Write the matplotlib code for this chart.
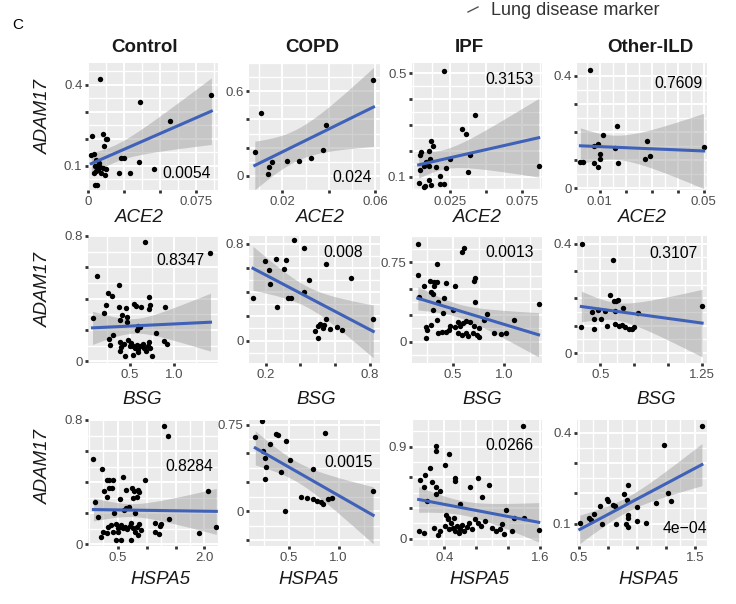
import numpy as np
import matplotlib
matplotlib.use("Agg")
import matplotlib.pyplot as plt
from matplotlib.ticker import MultipleLocator

plt.rcParams['font.family'] = ['Liberation Sans', 'DejaVu Sans']

# ---- data ----
groups = ['Control', 'COPD', 'IPF', 'Other-ILD']
genes = ['ACE2', 'BSG', 'HSPA5']

# ACE2 row
ctrl_ace2_x = [0.0086, 0.0359, 0.0857, 0.0572, 0.0030, 0.0104, 0.0123, 0.0132, 0.0109, 0.0023, 0.0042,
               0.0232, 0.0248, 0.0058, 0.0074, 0.0046, 0.0065, 0.0081, 0.0104, 0.0123, 0.0069, 0.0053,
               0.0093, 0.0116, 0.0039, 0.0354, 0.0215, 0.0289, 0.0458, 0.0046, 0.0065]
ctrl_ace2_y = [0.421, 0.335, 0.360, 0.264, 0.211, 0.219, 0.199, 0.199, 0.174, 0.141, 0.144,
               0.128, 0.128, 0.122, 0.110, 0.100, 0.098, 0.095, 0.091, 0.088, 0.085, 0.081,
               0.073, 0.067, 0.073, 0.114, 0.073, 0.075, 0.089, 0.030, 0.030]
copd_ace2_x = [0.0592, 0.0107, 0.0386, 0.0081, 0.0376, 0.0321, 0.0271, 0.0218, 0.0157, 0.0140, 0.0136]
copd_ace2_y = [0.678, 0.446, 0.363, 0.166, 0.180, 0.126, 0.107, 0.109, 0.095, 0.066, 0.012]
ipf_ace2_x = [0.0209, 0.0427, 0.0335, 0.0365, 0.0123, 0.0135, 0.0105, 0.0054, 0.0043, 0.0112, 0.0084,
              0.0075, 0.0047, 0.0156, 0.0225, 0.0105, 0.0377, 0.0181, 0.0036, 0.0082, 0.0075, 0.0121,
              0.0185, 0.0209, 0.0105, 0.0865, 0.0255, 0.0393]
ipf_ace2_y = [0.509, 0.339, 0.285, 0.265, 0.236, 0.219, 0.199, 0.193, 0.184, 0.167, 0.158,
              0.139, 0.126, 0.136, 0.132, 0.141, 0.117, 0.103, 0.074, 0.064, 0.059, 0.068,
              0.072, 0.072, 0.085, 0.139, 0.167, 0.184]
ild_ace2_x = [0.0064, 0.0167, 0.0113, 0.0092, 0.0077, 0.0160, 0.0103, 0.0100, 0.0036, 0.0026, 0.0079,
              0.0092, 0.0169, 0.0282, 0.0295, 0.0273, 0.0500]
ild_ace2_y = [0.419, 0.220, 0.190, 0.158, 0.151, 0.142, 0.121, 0.103, 0.095, 0.095, 0.089,
              0.075, 0.091, 0.169, 0.115, 0.103, 0.146]

# BSG row
ctrl_bsg_x = [0.674, 1.415, 0.130, 0.378, 0.252, 0.296, 0.233, 0.378, 0.463, 0.548, 0.574, 0.630, 0.722,
              0.733, 0.722, 0.896, 0.215, 0.081, 0.389, 0.474, 0.593, 0.622, 0.585, 0.315, 0.267, 0.278,
              0.796, 0.389, 0.437, 0.400, 0.389, 0.481, 0.500, 0.519, 0.537, 0.556, 0.585, 0.600, 0.622,
              0.648, 0.667, 0.685, 0.704, 0.722, 0.733, 0.452, 0.537, 0.593, 0.759, 0.889, 0.918, 0.415, 0.470]
ctrl_bsg_y = [0.764, 0.690, 0.545, 0.488, 0.435, 0.418, 0.361, 0.346, 0.340, 0.367, 0.354, 0.346, 0.414,
              0.361, 0.333, 0.344, 0.312, 0.276, 0.266, 0.249, 0.227, 0.219, 0.202, 0.170, 0.142, 0.106,
              0.181, 0.121, 0.112, 0.095, 0.064, 0.138, 0.100, 0.117, 0.096, 0.085, 0.106, 0.079, 0.096,
              0.113, 0.085, 0.064, 0.096, 0.121, 0.085, 0.032, 0.043, 0.057, 0.032, 0.128, 0.113, 0.297, 0.283]
copd_bsg_x = [0.361, 0.423, 0.550, 0.196, 0.258, 0.317, 0.216, 0.303, 0.223, 0.449, 0.695, 0.126, 0.262,
              0.326, 0.346, 0.423, 0.546, 0.501, 0.515, 0.487, 0.501, 0.569, 0.612, 0.643, 0.821, 0.530, 0.536]
copd_bsg_y = [0.828, 0.761, 0.634, 0.657, 0.670, 0.662, 0.582, 0.588, 0.469, 0.497, 0.519, 0.348, 0.276,
              0.353, 0.353, 0.403, 0.174, 0.119, 0.138, 0.083, 0.022, 0.099, 0.110, 0.091, 0.182, 0.107, 0.130]
ipf_bsg_x = [0.16, 0.583, 0.603, 0.343, 0.157, 0.277, 0.317, 0.343, 0.31, 0.217, 0.433, 0.523, 0.717, 0.70,
             0.283, 0.30, 0.41, 0.167, 0.35, 0.717, 0.5, 0.3, 0.4, 1.333, 0.833, 0.343, 0.55, 0.6, 0.623,
             0.667, 0.467, 0.517, 0.567, 0.233, 0.243, 0.283, 0.35, 0.39, 0.433, 0.457, 0.55, 0.583, 0.623,
             0.65, 0.69, 0.733, 0.75, 0.70, 0.75, 1.09, 0.9, 0.967, 1.017, 0.233, 0.8]
ipf_bsg_y = [0.928, 0.853, 0.884, 0.734, 0.634, 0.572, 0.563, 0.569, 0.531, 0.522, 0.553, 0.522, 0.603, 0.578,
             0.469, 0.447, 0.416, 0.422, 0.375, 0.375, 0.297, 0.297, 0.272, 0.353, 0.259, 0.209, 0.1875, 0.172,
             0.197, 0.1875, 0.147, 0.134, 0.147, 0.134, 0.109, 0.156, 0.078, 0.087, 0.094, 0.109, 0.084, 0.0625,
             0.078, 0.053, 0.078, 0.0625, 0.041, 0.147, 0.125, 0.203, 0.078, 0.072, 0.078, 0.031, 0.203]
ild_bsg_x = [0.365, 0.591, 0.574, 0.598, 0.615, 0.63, 0.664, 0.483, 0.537, 0.61, 0.439, 0.777, 1.248,
             0.451, 0.507, 0.36, 0.451, 0.549, 0.61, 0.635, 0.659, 0.684, 0.708, 0.733, 0.745]
ild_bsg_y = [0.40, 0.341, 0.214, 0.190, 0.190, 0.193, 0.166, 0.159, 0.154, 0.154, 0.151, 0.147, 0.171,
             0.123, 0.123, 0.096, 0.090, 0.099, 0.106, 0.099, 0.102, 0.094, 0.087, 0.090, 0.096]

# HSPA5 row
ctrl_hspa5_x = [1.306, 1.365, 0.076, 0.224, 0.312, 0.353, 0.412, 0.588, 0.971, 0.253, 0.353, 0.394, 0.106,
                0.529, 0.312, 0.147, 2.059, 1.382, 2.206, 1.912, 0.647, 0.747, 0.782, 0.841, 0.865, 0.765,
                0.824, 0.441, 0.606, 0.647, 0.688, 0.794, 1.147, 1.235, 1.253, 1.147, 1.206, 0.324, 0.382,
                0.471, 0.5, 0.529, 0.559, 0.588, 0.629, 0.665, 0.706, 0.735, 0.765, 0.794, 0.824, 0.865,
                0.9, 0.853, 0.5, 0.471, 0.206, 0.312, 0.412, 0.559, 0.724, 0.235]
ctrl_hspa5_y = [0.764, 0.694, 0.547, 0.487, 0.413, 0.417, 0.413, 0.434, 0.413, 0.345, 0.36, 0.366, 0.274,
                0.289, 0.302, 0.174, 0.345, 0.164, 0.115, 0.072, 0.349, 0.366, 0.345, 0.353, 0.338, 0.296,
                0.306, 0.2, 0.221, 0.232, 0.238, 0.2, 0.136, 0.119, 0.132, 0.083, 0.068, 0.115, 0.125,
                0.132, 0.104, 0.115, 0.125, 0.104, 0.115, 0.098, 0.119, 0.136, 0.104, 0.077, 0.115, 0.132,
                0.094, 0.062, 0.077, 0.03, 0.051, 0.072, 0.083, 0.03, 0.03, 0.077]
copd_hspa5_x = [0.234, 0.166, 0.372, 0.397, 0.476, 0.31, 0.241, 0.51, 0.259, 0.269, 0.421, 0.259, 0.741,
                0.862, 0.628, 0.683, 0.741, 0.786, 0.821, 0.890, 0.931, 0.845, 0.466, 1.345]
copd_hspa5_y = [0.780, 0.640, 0.670, 0.661, 0.610, 0.580, 0.521, 0.440, 0.461, 0.387, 0.342, 0.283, 0.363,
                0.679, 0.125, 0.113, 0.104, 0.089, 0.083, 0.104, 0.113, 0.065, 0.006, 0.173]
ipf_hspa5_x = [1.383, 0.3, 0.292, 0.454, 0.225, 0.163, 0.092, 0.413, 0.538, 0.538, 0.817, 0.725, 0.954,
               0.246, 0.3, 0.3, 0.35, 0.142, 0.183, 0.871, 0.6, 0.425, 0.442, 1.175, 1.275, 1.392, 1.579,
               0.079, 0.142, 0.275, 0.317, 0.35, 0.413, 0.454, 0.483, 0.508, 0.538, 0.558, 0.579, 0.6,
               0.621, 0.65, 0.683, 0.704, 0.746, 0.788, 0.817, 0.858, 0.913, 0.996, 1.05, 1.092, 1.121,
               1.142, 0.525, 0.442, 1.246]
ipf_hspa5_y = [1.101, 0.906, 0.861, 0.829, 0.690, 0.625, 0.576, 0.716, 0.593, 0.56, 0.593, 0.505, 0.528,
               0.55, 0.505, 0.44, 0.463, 0.505, 0.366, 0.408, 0.343, 0.236, 0.204, 0.285, 0.204, 0.204, 0.084,
               0.075, 0.052, 0.107, 0.032, 0.075, 0.123, 0.097, 0.149, 0.107, 0.075, 0.123, 0.058, 0.091,
               0.13, 0.075, 0.117, 0.155, 0.097, 0.188, 0.149, 0.123, 0.172, 0.107, 0.075, 0.097, 0.139,
               0.042, 0.204, 0.188, 0.075]
ild_hspa5_x = [1.561, 1.235, 0.509, 0.587, 0.631, 0.683, 0.741, 0.753, 0.791, 0.811, 0.703, 0.82, 0.907,
               0.927, 0.892, 0.916, 0.927, 0.927, 0.922, 1.003, 1.003, 1.081, 1.169, 1.265, 1.299, 0.602]
ild_hspa5_y = [0.422, 0.359, 0.102, 0.119, 0.133, 0.159, 0.181, 0.173, 0.162, 0.157, 0.097, 0.097, 0.100,
               0.228, 0.198, 0.179, 0.130, 0.119, 0.089, 0.155, 0.108, 0.102, 0.168, 0.201, 0.173, 0.111]

p_values = [['0.0054', '0.024', '0.3153', '0.7609'],
            ['0.8347', '0.008', '0.0013', '0.3107'],
            ['0.8284', '0.0015', '0.0266', '4e\u221204']]

data = [[(ctrl_ace2_x, ctrl_ace2_y), (copd_ace2_x, copd_ace2_y), (ipf_ace2_x, ipf_ace2_y), (ild_ace2_x, ild_ace2_y)],
        [(ctrl_bsg_x, ctrl_bsg_y), (copd_bsg_x, copd_bsg_y), (ipf_bsg_x, ipf_bsg_y), (ild_bsg_x, ild_bsg_y)],
        [(ctrl_hspa5_x, ctrl_hspa5_y), (copd_hspa5_x, copd_hspa5_y), (ipf_hspa5_x, ipf_hspa5_y), (ild_hspa5_x, ild_hspa5_y)]]

# ---- axis setup per panel: xlim, ylim, xticks, xlabels, yticks, ylabels ----
axis_cfg = [
    [dict(xlim=(0.0007, 0.0903), ylim=(0.011, 0.48), xt=[0, 0.025, 0.05, 0.075], xl=['0', '', '', '0.075'],
          yt=[0.1, 0.2, 0.3, 0.4], yl=['0.1', '', '', '0.4']),
     dict(xlim=(0.0056, 0.062), ylim=(-0.10, 0.80), xt=[0.02, 0.04, 0.06], xl=['0.02', '', '0.06'],
          yt=[0, 0.2, 0.4, 0.6], yl=['0', '', '', '0.6']),
     dict(xlim=(-0.001, 0.0888), ylim=(0.048, 0.539), xt=[0.025, 0.05, 0.075], xl=['0.025', '', '0.075'],
          yt=[0.1, 0.2, 0.3, 0.4, 0.5], yl=['0.1', '', '', '', '0.5']),
     dict(xlim=(0.0013, 0.0513), ylim=(-0.006, 0.445), xt=[0.01, 0.02, 0.03, 0.04, 0.05], xl=['0.01', '', '', '', '0.05'],
          yt=[0, 0.1, 0.2, 0.3, 0.4], yl=['0', '', '', '', '0.4'])],
    [dict(xlim=(0.03, 1.5), ylim=(-0.01, 0.796), xt=[0.5, 1.0], xl=['0.5', '1.0'],
          yt=[0, 0.2, 0.4, 0.6, 0.8], yl=['0', '', '', '', '0.8']),
     dict(xlim=(0.103, 0.86), ylim=(-0.185, 0.863), xt=[0.2, 0.4, 0.6, 0.8], xl=['0.2', '', '', '0.8'],
          yt=[0, 0.2, 0.4, 0.6, 0.8], yl=['0', '', '', '', '0.8']),
     dict(xlim=(0.1, 1.367), ylim=(-0.203, 1.0), xt=[0.5, 1.0], xl=['0.5', '1.0'],
          yt=[0, 0.25, 0.5, 0.75], yl=['0', '', '', '0.75']),
     dict(xlim=(0.328, 1.284), ylim=(-0.036, 0.428), xt=[0.5, 0.75, 1.0, 1.25], xl=['0.5', '', '', '1.25'],
          yt=[0, 0.1, 0.2, 0.3, 0.4], yl=['0', '', '', '', '0.4'])],
    [dict(xlim=(-0.018, 2.235), ylim=(-0.01, 0.80), xt=[0.5, 1.0, 1.5, 2.0], xl=['0.5', '', '', '2.0'],
          yt=[0, 0.2, 0.4, 0.6, 0.8], yl=['0', '', '', '', '0.8']),
     dict(xlim=(0.103, 1.414), ylim=(-0.298, 0.789), xt=[0.5, 1.0], xl=['0.5', '1.0'],
          yt=[-0.25, 0, 0.25, 0.5, 0.75], yl=['', '0', '', '', '0.75']),
     dict(xlim=(-0.004, 1.62), ylim=(-0.071, 1.159), xt=[0.4, 0.8, 1.2, 1.6], xl=['0.4', '', '', '1.6'],
          yt=[0, 0.3, 0.6, 0.9], yl=['0', '', '', '0.9']),
     dict(xlim=(0.485, 1.605), ylim=(0.026, 0.442), xt=[0.5, 0.75, 1.0, 1.25, 1.5], xl=['0.5', '', '', '', '1.5'],
          yt=[0.1, 0.2, 0.3, 0.4], yl=['0.1', '', '', '0.4'])],
]

# p-value text position (axes fraction)
p_pos = [[(0.76, 0.13), (0.79, 0.10), (0.75, 0.87), (0.78, 0.84)],
         [(0.71, 0.81), (0.72, 0.87), (0.75, 0.87), (0.74, 0.86)],
         [(0.78, 0.63), (0.76, 0.66), (0.75, 0.80), (0.83, 0.14)]]

# layout in pixels
W, H = 736, 604
col_px = [(88, 218), (249, 380), (412, 542), (577, 707)]
row_px = [(63, 190), (236, 363), (420, 546)]
xlab_px = [[(139, 217), (320, 217), (477, 217), (642, 217)],
           [(142, 400), (316, 400), (482, 400), (656, 400)],
           [(160, 580), (308, 580), (479, 580), (648, 580)]]
ylab_px = [(43, 117), (43, 290), (43, 467)]
title_px = [145, 312, 469, 650]


def t975(df):
    # 97.5% t quantile, Cornish-Fisher expansion
    z = 1.959964
    g1 = (z**3 + z) / 4
    g2 = (5 * z**5 + 16 * z**3 + 3 * z) / 96
    g3 = (3 * z**7 + 19 * z**5 + 17 * z**3 - 15 * z) / 384
    return z + g1 / df + g2 / df**2 + g3 / df**3


def lm_band(x, y):
    # same as geom_smooth(method = "lm")
    x = np.asarray(x); y = np.asarray(y)
    n = len(x)
    b, a = np.polyfit(x, y, 1)
    xs = np.linspace(x.min(), x.max(), 80)
    fit = a + b * xs
    resid = y - (a + b * x)
    s = np.sqrt(np.sum(resid**2) / (n - 2))
    sxx = np.sum((x - x.mean())**2)
    se = s * np.sqrt(1 / n + (xs - x.mean())**2 / sxx)
    tq = t975(n - 2)
    return xs, fit, fit - tq * se, fit + tq * se


fig = plt.figure(figsize=(W / 100, H / 100), dpi=100)

def fx(px):
    return px / W

def fy(py):
    return 1 - py / H

for r in range(3):
    for c in range(4):
        l, rr = col_px[c]
        t, b = row_px[r]
        ax = fig.add_axes([fx(l), fy(b), (rr - l) / W, (b - t) / H])
        cfg = axis_cfg[r][c]
        x, y = data[r][c]

        ax.set_facecolor('#EBEBEB')
        for sp in ax.spines.values():
            sp.set_visible(False)
        ax.set_axisbelow(True)

        xs, fit, lo, hi = lm_band(x, y)
        ax.fill_between(xs, lo, hi, color='#999999', alpha=0.45, lw=0, zorder=2)
        ax.scatter(x, y, s=15, color='black', lw=0, zorder=3)
        ax.plot(xs, fit, color='#3F62B8', lw=2.2, zorder=4)

        ax.set_xlim(cfg['xlim'])
        ax.set_ylim(cfg['ylim'])
        ax.set_xticks(cfg['xt'])
        ax.set_xticklabels(cfg['xl'])
        ax.set_yticks(cfg['yt'])
        ax.set_yticklabels(cfg['yl'])
        xstep = cfg['xt'][1] - cfg['xt'][0]
        ystep = cfg['yt'][1] - cfg['yt'][0]
        ax.xaxis.set_minor_locator(MultipleLocator(xstep / 2))
        ax.yaxis.set_minor_locator(MultipleLocator(ystep / 2))
        ax.grid(which='major', color='white', lw=1.4)
        ax.grid(which='minor', color='white', lw=1.0)
        ax.tick_params(which='major', length=2.5, width=2, color='#333333', pad=1.5,
                       labelsize=9.5, labelcolor='#4D4D4D')
        ax.tick_params(which='minor', length=0)

        px, py = p_pos[r][c]
        ax.text(px, py, p_values[r][c], transform=ax.transAxes, fontsize=11.3,
                ha='center', va='center', color='black', zorder=5)

        lx, ly = xlab_px[r][c]
        fig.text(fx(lx), fy(ly), genes[r], fontsize=13.5, style='italic',
                 ha='center', va='center', color='#1A1A1A')

for r in range(3):
    fig.text(fx(ylab_px[r][0]), fy(ylab_px[r][1]), 'ADAM17', fontsize=13.5, style='italic',
             rotation=90, ha='center', va='center', color='#1A1A1A')

for c in range(4):
    fig.text(fx(title_px[c]), fy(47), groups[c], fontsize=13.5, fontweight='bold',
             ha='center', va='center', color='#1A1A1A')

fig.text(fx(18), fy(25), 'C', fontsize=11, ha='center', va='center')
fig.text(fx(575), fy(15), 'Lung disease marker', fontsize=13, ha='center', va='baseline', color='#333333')
fig.add_artist(plt.Line2D([fx(468), fx(478)], [fy(12), fy(7)], color='#555555', lw=1))

fig.savefig('out.png', dpi=100)
